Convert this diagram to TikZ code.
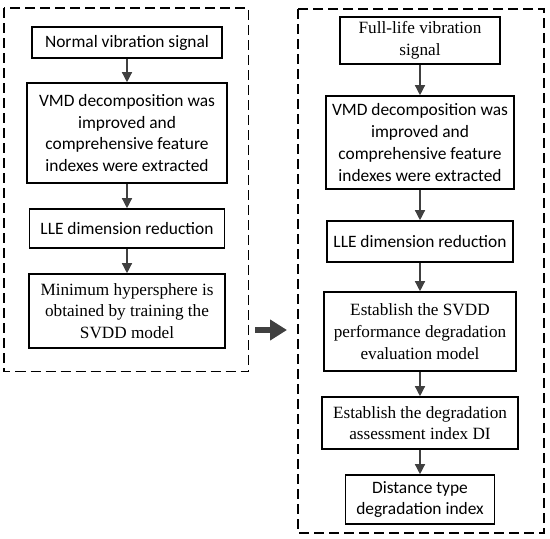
\documentclass[tikz,border=0pt]{standalone}
\usepackage{fontspec}
\setmainfont{Liberation Serif}
\newfontfamily\carlito{Carlito}
\usetikzlibrary{arrows.meta}
\definecolor{arrowgray}{HTML}{404040}
\tikzset{
  stage/.style={draw=black,line width=1.6pt,align=center,inner sep=1pt,fill=white},
  sans stage/.style={stage,font=\carlito\fontsize{17.4}{21.7}\selectfont},
  serif stage/.style={stage,font=\fontsize{17.2}{21.7}\selectfont},
  flow/.style={draw=arrowgray,line width=1.3pt,-{Triangle[length=10pt,width=10pt]}},
  group/.style={draw=black,line width=1.8pt,dash pattern=on 10pt off 5pt}
}
\begin{document}
\begin{tikzpicture}[x=1pt,y=-1pt]
      \useasboundingbox(0,0)rectangle(550,539);
      \draw[group](4,8)rectangle(248.5,371.5); %training part
      \draw[group](298,9)rectangle(544,533); %assessment part
      %left column
      \node[sans stage,minimum width=190pt,minimum height=31pt] (normal) at (127,42.5){Normal vibration signal};
      \node[sans stage,minimum width=200pt,minimum height=100pt] (vmd1) at (127,133){VMD decomposition was\\improved and\\comprehensive feature\\indexes were extracted};
      \node[sans stage,minimum width=195pt,minimum height=39pt] (lle1) at (127,228.5){LLE dimension reduction};
      \node[serif stage,minimum width=196pt,minimum height=74pt] (sphere) at (127,311){Minimum hypersphere is\\obtained by training the\\SVDD model};
      %right column
      \node[serif stage,minimum width=160pt,minimum height=47pt] (full) at (420,40.5){Full-life vibration\\signal};
      \node[sans stage,minimum width=188pt,minimum height=93pt] (vmd2) at (420,142.5){VMD decomposition was\\improved and\\comprehensive feature\\indexes were extracted};
      \node[sans stage,minimum width=186pt,minimum height=41pt] (lle2) at (420,241.5){LLE dimension reduction};
      \node[serif stage,minimum width=192pt,minimum height=79pt] (svdd) at (420,331.5){Establish the SVDD\\performance degradation\\evaluation model};
      \node[serif stage,minimum width=196pt,minimum height=52pt] (di) at (420,423){Establish the degradation\\assessment index DI};
      \node[sans stage,minimum width=149pt,minimum height=49pt] (dist) at (420,499.5){Distance type\\degradation index};
      %connectors
      \draw[flow](normal)--(vmd1);
      \draw[flow](vmd1)--(lle1);
      \draw[flow](lle1)--(sphere);
      \draw[flow](full)--(vmd2);
      \draw[flow](vmd2)--(lle2);
      \draw[flow](lle2)--(svdd);
      \draw[flow](svdd)--(di);
      \draw[flow](di)--(dist);
      %big arrow between the parts
      \coordinate (gap left) at (255,330);
      \coordinate (gap right) at (287,330);
      \draw[draw=arrowgray,line width=6pt,-{Triangle[length=17pt,width=20pt]}](gap left)--(gap right);
\end{tikzpicture}
\end{document}
